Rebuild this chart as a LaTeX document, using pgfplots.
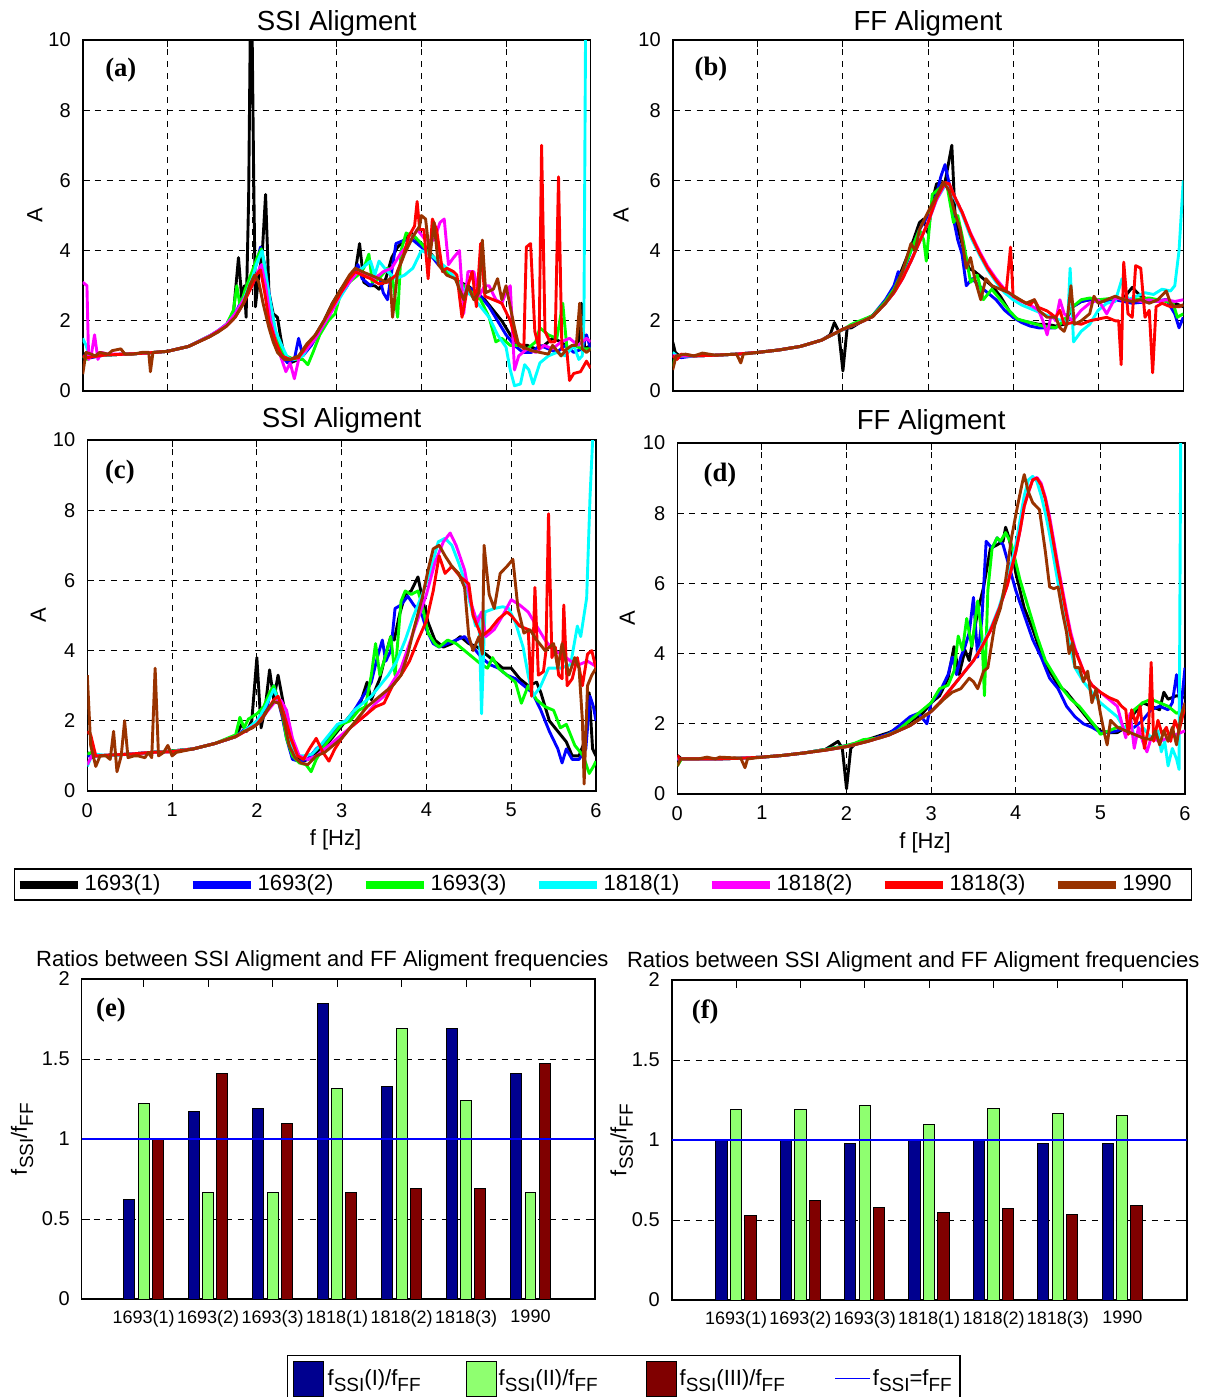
\documentclass[border=0pt]{standalone}
\usepackage{fontspec}
\setmainfont{Liberation Sans}
\newfontfamily\serifbold{Liberation Serif}
\usepackage{pgfplots}
\pgfplotsset{compat=1.18}

\definecolor{c1}{rgb}{0,0,0}
\definecolor{c2}{rgb}{0,0,1}
\definecolor{c3}{rgb}{0,1,0}
\definecolor{c4}{rgb}{0,1,1}
\definecolor{c5}{rgb}{1,0,1}
\definecolor{c6}{rgb}{1,0,0}
\definecolor{c7}{rgb}{0.6,0.2,0}
\definecolor{barI}{rgb}{0,0,0.5625}
\definecolor{barII}{rgb}{0.5625,1,0.4375}
\definecolor{barIII}{rgb}{0.5,0,0}

\newcommand{\tfont}{\fontsize{13.8}{15}\selectfont}
\newcommand{\sub}[1]{\raisebox{-0.55ex}{\fontsize{9.5}{10}\selectfont #1}}
\newcommand{\plabel}[3]{\node[font=\serifbold\bfseries\fontsize{13.3}{14}\selectfont] at (rel axis cs:#1,#2) {#3};}

\pgfplotsset{
  every axis/.append style={/pgf/number format/assume math mode=true},
  spec/.style={
    scale only axis,
    xmin=0, xmax=6, ymin=0, ymax=10,
    xtick={0,1,...,6}, ytick={0,2,...,10},
    grid=major,
    grid style={black, line width=0.45pt, dash pattern=on 3pt off 3pt},
    tick align=inside, major tick length=3.5pt,
    tick style={black, line width=0.5pt},
    axis line style={black, line width=0.8pt},
    tick label style={font=\fontsize{10}{10}\selectfont},
    yticklabel style={xshift=-2.5pt},
    xticklabel style={yshift=-2.5pt},
    label style={font=\fontsize{11}{12}\selectfont},
    ylabel={A},
    xlabel style={at={(axis description cs:0.488,-0.14)}, anchor=center},
    title style={font=\tfont, at={(axis description cs:0.5,1)}, anchor=base},
  },
  ratio/.style={
    scale only axis,
    xmax=8, ymin=0, ymax=2,
    xtick={1,...,7},
    xticklabels={1693(1),1693(2),1693(3),1818(1),1818(2),1818(3),1990},
    ytick={0,0.5,1,1.5,2},
    ymajorgrids,
    grid style={black, line width=0.45pt, dash pattern=on 3pt off 3pt},
    tick align=inside, major tick length=4pt,
    tick style={black, line width=0.5pt},
    axis line style={black, line width=0.8pt},
    xticklabel style={font=\fontsize{9}{9}\selectfont, yshift=-2pt},
    yticklabel style={font=\fontsize{10}{10}\selectfont, xshift=-2.5pt},
    title={Ratios between SSI Aligment and FF Aligment frequencies},
    title style={font=\fontsize{11}{12}\selectfont, at={(axis description cs:0.5,1)}, anchor=base, yshift=0.25pt, xshift=-8pt},
    ylabel={f\sub{SSI}/f\sub{FF}},
    label style={font=\fontsize{11}{12}\selectfont},
  },
  s1/.style={c1, line width=1.45pt, line join=round},
  s2/.style={c2, line width=1.45pt, line join=round},
  s3/.style={c3, line width=1.45pt, line join=round},
  s4/.style={c4, line width=1.45pt, line join=round},
  s5/.style={c5, line width=1.45pt, line join=round},
  s6/.style={c6, line width=1.45pt, line join=round},
  s7/.style={c7, line width=1.45pt, line join=round},
  bI/.style={ybar, fill=barI, draw=black, line width=0.5pt},
  bII/.style={ybar, fill=barII, draw=black, line width=0.5pt},
  bIII/.style={ybar, fill=barIII, draw=black, line width=0.5pt},
  unity/.style={blue, line width=1pt},
}

\begin{document}
\begin{tikzpicture}
\useasboundingbox (0,0) rectangle (605pt,-698.5pt);

% ---------------- (a) SSI alignment, upper ----------------
\begin{axis}[spec, at={(41.35pt,-20pt)}, anchor=north west, width=254pt, height=175.5pt,
  xticklabels={}, title={SSI Aligment}, title style={yshift=-1.5pt},
  ylabel style={at={(axis description cs:-0.0945,0.5)}, anchor=center}]
\addplot[s1] coordinates {(0,1.1)(0.05,0.95)(0.1,1.0)(0.25,1.02)(0.5,1.05)(0.75,1.08)(1.0,1.13)(1.25,1.27)(1.5,1.55)(1.6,1.7)(1.7,1.9)(1.78,2.2)(1.84,3.8)(1.88,2.6)(1.91,3.0)(1.93,2.1)(1.96,5.5)(1.98,10.5)(2.0,10.5)(2.02,6)(2.04,2.4)(2.08,3.3)(2.12,3.9)(2.16,5.6)(2.2,2.8)(2.25,2.2)(2.3,2.1)(2.34,1.5)(2.38,1.0)(2.45,0.8)(2.55,0.9)(2.65,1.2)(2.75,1.6)(2.85,2.0)(2.95,2.5)(3.05,2.9)(3.15,3.2)(3.22,3.4)(3.27,4.2)(3.32,3.1)(3.38,3.0)(3.45,3.0)(3.5,2.9)(3.58,3.2)(3.65,3.8)(3.72,4.1)(3.8,4.3)(3.88,4.5)(3.95,4.3)(4.05,4.1)(4.15,3.8)(4.25,3.5)(4.35,3.3)(4.45,3.1)(4.55,3.0)(4.65,2.8)(4.75,2.6)(4.85,2.3)(4.95,2.0)(5.05,1.6)(5.15,1.3)(5.25,1.3)(5.35,1.2)(5.45,1.3)(5.55,1.5)(5.65,1.4)(5.75,1.2)(5.85,1.3)(5.89,2.5)(5.93,1.2)(6.0,1.3)};
\addplot[s2] coordinates {(0,1.0)(0.1,0.95)(0.25,1.02)(0.5,1.05)(0.75,1.08)(1.0,1.13)(1.25,1.27)(1.5,1.57)(1.6,1.72)(1.7,1.9)(1.8,2.2)(1.9,2.7)(1.98,3.2)(2.05,3.6)(2.1,4.1)(2.15,3.6)(2.2,2.8)(2.25,2.0)(2.3,1.4)(2.35,1.0)(2.42,0.8)(2.5,0.9)(2.55,1.5)(2.6,1.0)(2.7,1.3)(2.8,1.7)(2.9,2.1)(3.0,2.6)(3.1,2.9)(3.2,3.3)(3.25,3.6)(3.3,3.2)(3.4,3.0)(3.5,3.3)(3.55,2.8)(3.6,2.6)(3.65,3.4)(3.7,4.2)(3.8,4.3)(3.9,4.3)(4.0,4.1)(4.1,3.9)(4.2,3.6)(4.3,3.4)(4.4,3.2)(4.5,3.0)(4.6,2.9)(4.7,2.7)(4.8,2.4)(4.9,2.0)(5.0,1.6)(5.1,1.3)(5.2,1.1)(5.3,1.1)(5.4,1.3)(5.5,1.2)(5.6,1.1)(5.7,1.3)(5.8,1.1)(5.9,1.2)(5.95,1.6)(6.0,1.2)};
\addplot[s3] coordinates {(0,1.0)(0.05,0.9)(0.1,1.0)(0.25,1.02)(0.5,1.05)(0.75,1.08)(1.0,1.13)(1.25,1.27)(1.5,1.57)(1.6,1.7)(1.7,1.9)(1.78,2.3)(1.82,3.0)(1.86,2.4)(1.92,2.9)(2.0,3.4)(2.06,3.8)(2.11,4.05)(2.16,3.4)(2.2,2.5)(2.26,1.8)(2.32,1.3)(2.4,1.0)(2.5,0.9)(2.6,0.9)(2.66,0.75)(2.72,1.1)(2.8,1.6)(2.9,2.0)(2.98,2.2)(3.05,2.8)(3.15,3.1)(3.25,3.3)(3.32,3.5)(3.38,3.9)(3.42,3.1)(3.5,3.2)(3.6,3.5)(3.66,3.2)(3.72,2.1)(3.76,4.0)(3.82,4.5)(3.92,4.4)(4.0,4.2)(4.1,3.9)(4.2,3.7)(4.3,3.4)(4.4,3.2)(4.5,3.0)(4.6,2.8)(4.7,2.6)(4.8,2.1)(4.88,1.4)(4.95,1.5)(5.05,1.3)(5.15,1.3)(5.25,1.2)(5.35,1.4)(5.4,1.8)(5.5,1.6)(5.6,1.5)(5.67,2.5)(5.72,1.2)(5.8,1.3)(5.9,1.2)(6.0,1.2)};
\addplot[s4] coordinates {(0,1.5)(0.04,1.3)(0.08,1.0)(0.15,1.0)(0.25,1.02)(0.5,1.05)(0.75,1.08)(1.0,1.13)(1.25,1.27)(1.5,1.57)(1.6,1.72)(1.7,1.9)(1.8,2.2)(1.9,2.6)(2.0,3.2)(2.05,3.6)(2.12,4.0)(2.17,3.2)(2.22,2.5)(2.28,1.7)(2.35,1.3)(2.42,0.95)(2.5,0.9)(2.6,1.0)(2.7,1.4)(2.8,1.8)(2.9,2.2)(3.0,2.5)(3.1,2.9)(3.2,3.3)(3.3,3.5)(3.4,3.7)(3.45,3.3)(3.5,3.7)(3.6,3.4)(3.7,3.2)(3.8,3.3)(3.9,3.5)(4.0,4.0)(4.1,3.9)(4.2,3.7)(4.3,3.5)(4.4,3.2)(4.5,2.9)(4.6,2.7)(4.7,2.4)(4.8,2.1)(4.9,1.6)(5.0,1.25)(5.05,0.6)(5.1,0.15)(5.17,0.2)(5.22,0.75)(5.27,0.6)(5.32,0.2)(5.4,0.8)(5.5,1.0)(5.6,1.1)(5.7,1.0)(5.8,1.3)(5.86,0.9)(5.9,1.0)(5.92,2.0)(5.94,10.5)};
\addplot[s5] coordinates {(0,3.1)(0.05,3.0)(0.07,0.9)(0.1,1.0)(0.14,1.6)(0.18,0.9)(0.22,1.1)(0.3,1.05)(0.5,1.05)(0.75,1.08)(1.0,1.13)(1.25,1.27)(1.5,1.57)(1.6,1.72)(1.7,1.9)(1.8,2.2)(1.9,2.6)(2.0,3.0)(2.05,3.3)(2.11,3.6)(2.16,3.0)(2.22,2.0)(2.28,1.4)(2.35,0.9)(2.4,0.55)(2.45,0.8)(2.5,0.35)(2.56,1.0)(2.65,1.2)(2.75,1.5)(2.85,1.9)(2.95,2.3)(3.05,2.8)(3.15,3.1)(3.25,3.4)(3.35,3.3)(3.45,3.2)(3.55,3.4)(3.65,3.5)(3.75,3.9)(3.85,4.2)(3.95,4.6)(4.05,4.3)(4.15,4.3)(4.22,4.8)(4.27,4.9)(4.32,3.6)(4.38,3.8)(4.45,4.0)(4.5,2.2)(4.55,3.4)(4.62,3.4)(4.68,2.7)(4.75,3.0)(4.8,3.0)(4.88,2.6)(4.95,2.5)(5.0,2.8)(5.05,3.0)(5.1,0.6)(5.15,1.0)(5.25,1.2)(5.35,1.1)(5.45,1.3)(5.55,1.2)(5.65,1.4)(5.75,1.5)(5.85,1.3)(5.95,1.5)(6.0,1.4)};
\addplot[s6] coordinates {(0,1.0)(0.05,0.95)(0.25,1.02)(0.5,1.05)(0.75,1.08)(1.0,1.13)(1.25,1.27)(1.5,1.55)(1.6,1.7)(1.7,1.85)(1.8,2.1)(1.9,2.5)(2.0,3.0)(2.05,3.3)(2.1,3.45)(2.15,2.8)(2.2,2.0)(2.28,1.4)(2.35,1.0)(2.45,0.9)(2.55,0.95)(2.65,1.3)(2.75,1.6)(2.85,2.0)(2.95,2.4)(3.05,2.8)(3.15,3.2)(3.22,3.4)(3.3,3.3)(3.4,3.2)(3.5,3.05)(3.6,3.1)(3.7,3.3)(3.78,3.8)(3.85,4.4)(3.92,4.7)(3.95,5.4)(3.98,4.6)(4.03,4.6)(4.08,3.2)(4.13,4.9)(4.18,4.6)(4.25,3.4)(4.3,3.5)(4.38,3.4)(4.42,3.3)(4.48,2.1)(4.55,3.0)(4.6,3.4)(4.65,2.4)(4.7,4.2)(4.75,2.7)(4.85,2.6)(4.95,2.5)(5.05,2.0)(5.12,1.4)(5.18,1.3)(5.21,1.2)(5.24,4.1)(5.29,4.2)(5.34,1.7)(5.39,1.2)(5.42,7.0)(5.46,1.7)(5.52,1.4)(5.58,1.4)(5.62,6.1)(5.66,1.2)(5.72,1.1)(5.75,0.3)(5.8,0.5)(5.88,0.55)(5.95,0.85)(6.0,0.65)};
\addplot[s7] coordinates {(0,0.48)(0.04,1.1)(0.1,1.05)(0.15,1.0)(0.2,1.1)(0.3,1.05)(0.35,1.15)(0.45,1.2)(0.5,1.05)(0.6,1.05)(0.7,1.1)(0.78,1.1)(0.8,0.55)(0.83,1.1)(1.0,1.13)(1.25,1.27)(1.5,1.55)(1.6,1.68)(1.7,1.85)(1.8,2.1)(1.9,2.5)(1.97,3.0)(2.03,3.3)(2.08,3.1)(2.13,2.5)(2.2,1.8)(2.25,1.4)(2.3,1.1)(2.38,0.9)(2.45,0.9)(2.55,1.0)(2.65,1.35)(2.75,1.6)(2.85,2.0)(2.95,2.5)(3.05,2.9)(3.15,3.3)(3.22,3.5)(3.3,3.4)(3.4,3.3)(3.5,3.2)(3.58,3.1)(3.63,3.2)(3.66,2.1)(3.72,3.4)(3.8,3.9)(3.9,4.4)(3.98,4.7)(4.0,5.0)(4.05,4.9)(4.1,3.8)(4.15,4.8)(4.2,3.6)(4.3,3.3)(4.4,3.2)(4.5,2.6)(4.55,3.0)(4.62,2.6)(4.68,2.8)(4.72,4.3)(4.76,2.8)(4.85,2.9)(4.9,3.2)(4.95,2.6)(5.0,3.0)(5.05,2.4)(5.1,1.8)(5.15,1.3)(5.2,1.25)(5.3,1.15)(5.4,1.1)(5.5,1.05)(5.55,1.3)(5.65,1.0)(5.72,1.2)(5.78,1.3)(5.83,1.3)(5.87,2.5)(5.9,1.2)(5.95,1.1)(6.0,1.2)};
\plabel{0.075}{0.915}{(a)}
\end{axis}

% ---------------- (b) FF alignment, upper ----------------
\begin{axis}[spec, at={(336.35pt,-20pt)}, anchor=north west, width=255.3pt, height=175.5pt,
  xticklabels={}, title={FF Aligment}, title style={yshift=-1.5pt},
  ylabel style={at={(axis description cs:-0.101,0.5)}, anchor=center}]
\addplot[s1] coordinates {(0,1.4)(0.03,1.1)(0.08,1.0)(0.25,1.0)(0.5,1.02)(0.75,1.05)(1.0,1.1)(1.25,1.17)(1.5,1.27)(1.75,1.45)(1.85,1.6)(1.9,1.95)(1.95,1.7)(2.0,0.57)(2.05,1.8)(2.1,1.8)(2.2,1.95)(2.35,2.15)(2.5,2.55)(2.6,2.9)(2.7,3.5)(2.8,4.1)(2.9,4.8)(2.95,4.9)(3.0,4.5)(3.05,5.4)(3.1,5.9)(3.2,5.95)(3.28,7.0)(3.32,4.9)(3.4,4.2)(3.48,3.5)(3.55,3.4)(3.65,3.2)(3.75,3.0)(3.85,2.7)(3.95,2.3)(4.0,2.1)(4.1,2.0)(4.2,1.95)(4.3,1.9)(4.4,1.9)(4.5,1.85)(4.6,1.9)(4.7,2.4)(4.8,2.55)(4.9,2.6)(5.0,2.6)(5.1,2.55)(5.2,2.6)(5.3,2.65)(5.4,2.95)(5.5,2.7)(5.6,2.6)(5.7,2.55)(5.8,2.6)(5.9,2.5)(6.0,2.4)};
\addplot[s2] coordinates {(0,1.0)(0.1,0.95)(0.25,1.0)(0.5,1.02)(0.75,1.05)(1.0,1.1)(1.25,1.17)(1.5,1.27)(1.75,1.45)(2.0,1.75)(2.2,1.95)(2.35,2.15)(2.5,2.6)(2.6,3.0)(2.65,3.4)(2.7,3.3)(2.8,4.0)(2.9,4.6)(3.0,5.0)(3.05,5.3)(3.1,5.6)(3.15,6.1)(3.2,6.45)(3.25,5.9)(3.3,4.9)(3.35,4.3)(3.4,3.9)(3.45,3.0)(3.52,3.2)(3.6,3.0)(3.7,2.8)(3.8,2.6)(3.9,2.3)(4.0,2.1)(4.1,1.95)(4.2,1.85)(4.3,1.8)(4.4,1.8)(4.5,1.8)(4.6,2.0)(4.7,2.4)(4.8,2.55)(4.9,2.6)(5.0,2.55)(5.2,2.6)(5.4,2.5)(5.6,2.55)(5.8,2.6)(5.9,2.2)(5.95,1.8)(6.0,2.1)};
\addplot[s3] coordinates {(0,0.7)(0.04,1.0)(0.25,1.0)(0.5,1.02)(0.75,1.05)(1.0,1.1)(1.25,1.17)(1.5,1.27)(1.75,1.45)(2.0,1.75)(2.1,1.9)(2.2,2.0)(2.35,2.15)(2.5,2.55)(2.6,2.9)(2.7,3.4)(2.8,4.0)(2.9,4.6)(2.95,4.3)(2.98,3.7)(3.05,5.6)(3.15,5.8)(3.22,5.9)(3.3,4.8)(3.35,5.0)(3.42,4.2)(3.5,3.1)(3.58,3.3)(3.65,2.6)(3.75,2.9)(3.85,2.6)(3.95,2.3)(4.05,2.05)(4.2,1.95)(4.35,1.85)(4.5,1.8)(4.6,2.0)(4.7,2.4)(4.8,2.6)(4.9,2.65)(5.0,2.6)(5.2,2.65)(5.4,2.6)(5.6,2.65)(5.8,2.55)(5.88,2.5)(5.93,2.1)(6.0,2.2)};
\addplot[s4] coordinates {(0,1.1)(0.05,1.0)(0.25,1.0)(0.5,1.02)(0.75,1.05)(1.0,1.1)(1.25,1.17)(1.5,1.27)(1.75,1.45)(2.0,1.76)(2.2,1.95)(2.35,2.12)(2.5,2.5)(2.6,2.8)(2.7,3.2)(2.8,3.7)(2.9,4.25)(3.0,4.8)(3.1,5.45)(3.2,5.85)(3.25,5.85)(3.3,5.55)(3.4,5.05)(3.5,4.4)(3.6,3.9)(3.7,3.45)(3.8,3.1)(3.9,2.8)(4.0,2.6)(4.1,2.45)(4.2,2.35)(4.3,2.25)(4.4,2.15)(4.5,2.05)(4.6,2.0)(4.64,1.9)(4.67,3.5)(4.71,1.4)(4.8,1.7)(4.9,1.9)(5.0,2.3)(5.1,2.5)(5.2,2.55)(5.28,3.2)(5.35,2.6)(5.45,2.7)(5.55,2.8)(5.65,2.75)(5.75,2.9)(5.85,2.85)(5.9,3.0)(5.95,4.0)(6.0,6.0)};
\addplot[s5] coordinates {(0,1.0)(0.25,1.0)(0.5,1.02)(0.75,1.05)(1.0,1.1)(1.25,1.17)(1.5,1.27)(1.75,1.45)(2.0,1.76)(2.2,1.95)(2.35,2.12)(2.5,2.5)(2.6,2.8)(2.7,3.2)(2.8,3.7)(2.9,4.25)(3.0,4.8)(3.1,5.45)(3.2,5.9)(3.25,5.9)(3.3,5.6)(3.4,5.1)(3.5,4.5)(3.6,4.0)(3.7,3.55)(3.8,3.2)(3.9,2.9)(4.0,2.7)(4.1,2.55)(4.2,2.45)(4.3,2.3)(4.35,2.0)(4.4,1.6)(4.45,2.2)(4.5,2.0)(4.55,2.6)(4.6,2.2)(4.7,2.0)(4.8,2.3)(4.9,2.5)(5.0,2.6)(5.1,2.2)(5.2,2.65)(5.3,2.6)(5.4,2.6)(5.5,2.55)(5.6,2.6)(5.7,2.55)(5.8,2.6)(5.9,2.55)(6.0,2.6)};
\addplot[s6] coordinates {(0,1.0)(0.05,0.9)(0.1,1.05)(0.25,1.0)(0.5,1.02)(0.75,1.05)(1.0,1.1)(1.25,1.17)(1.5,1.27)(1.75,1.45)(2.0,1.76)(2.2,1.95)(2.35,2.12)(2.5,2.5)(2.6,2.8)(2.7,3.2)(2.8,3.7)(2.9,4.25)(3.0,4.8)(3.1,5.5)(3.2,5.94)(3.25,5.9)(3.3,5.6)(3.4,5.1)(3.5,4.47)(3.6,3.95)(3.7,3.5)(3.8,3.15)(3.85,3.0)(3.92,2.85)(3.97,4.1)(4.0,2.7)(4.1,2.57)(4.2,2.45)(4.25,2.6)(4.3,2.38)(4.4,2.28)(4.5,2.1)(4.55,2.3)(4.6,1.9)(4.7,1.95)(4.8,1.9)(4.9,2.0)(5.0,2.05)(5.1,2.1)(5.2,2.0)(5.24,2.0)(5.27,0.75)(5.3,3.67)(5.35,2.2)(5.4,2.1)(5.44,3.57)(5.5,3.5)(5.55,2.1)(5.6,2.3)(5.64,0.52)(5.68,2.4)(5.75,2.5)(5.85,2.4)(5.95,2.4)(6.0,2.45)};
\addplot[s7] coordinates {(0,0.6)(0.04,1.0)(0.15,1.05)(0.25,1.0)(0.35,1.08)(0.5,1.02)(0.75,1.05)(0.8,0.8)(0.83,1.05)(1.0,1.1)(1.25,1.17)(1.5,1.27)(1.75,1.45)(2.0,1.76)(2.2,1.95)(2.35,2.12)(2.5,2.5)(2.6,2.85)(2.7,3.4)(2.8,4.2)(2.85,4.0)(2.9,4.6)(3.0,5.1)(3.1,5.55)(3.18,5.95)(3.25,5.7)(3.3,5.2)(3.38,4.6)(3.45,3.5)(3.5,3.8)(3.55,3.2)(3.62,2.6)(3.68,3.2)(3.75,3.0)(3.85,2.9)(3.95,2.8)(4.05,2.65)(4.15,2.5)(4.25,2.6)(4.3,2.3)(4.4,2.1)(4.5,2.1)(4.55,1.8)(4.6,1.7)(4.63,1.9)(4.68,3.0)(4.72,1.9)(4.8,2.0)(4.9,2.2)(4.95,2.7)(5.0,2.5)(5.1,2.6)(5.2,2.7)(5.3,2.6)(5.4,2.55)(5.5,2.6)(5.6,2.5)(5.7,2.6)(5.8,2.85)(5.85,2.5)(5.9,2.4)(6.0,2.45)};
\plabel{0.075}{0.917}{(b)}
\end{axis}

% ---------------- (c) SSI alignment, lower ----------------
\begin{axis}[spec, at={(43.65pt,-220pt)}, anchor=north west, width=254.35pt, height=175.5pt,
  title={SSI Aligment}, title style={yshift=0.5pt}, xlabel={f [Hz]},
  ylabel style={at={(axis description cs:-0.0965,0.5)}, anchor=center}]
\addplot[s1] coordinates {(0,1.1)(0.05,0.95)(0.1,1.0)(0.25,1.02)(0.5,1.05)(0.75,1.1)(1.0,1.14)(1.25,1.2)(1.5,1.35)(1.75,1.55)(1.82,1.9)(1.88,1.7)(1.94,2.0)(2.0,3.8)(2.05,1.8)(2.1,2.4)(2.15,3.45)(2.2,2.6)(2.25,3.3)(2.32,2.4)(2.38,1.5)(2.45,0.95)(2.55,0.85)(2.65,0.95)(2.75,1.2)(2.85,1.4)(2.95,1.7)(3.05,2.0)(3.15,2.3)(3.22,2.5)(3.3,3.1)(3.35,2.6)(3.45,3.2)(3.52,3.9)(3.58,4.4)(3.62,4.3)(3.68,5.0)(3.75,5.6)(3.82,5.7)(3.9,6.1)(3.95,5.5)(4.02,4.8)(4.1,4.3)(4.2,4.1)(4.3,4.2)(4.4,4.4)(4.5,4.2)(4.6,4.1)(4.7,3.9)(4.8,3.7)(4.9,3.5)(5.0,3.5)(5.1,3.2)(5.2,3.0)(5.3,3.1)(5.35,2.8)(5.45,2.0)(5.55,1.7)(5.65,1.4)(5.72,1.0)(5.8,1.0)(5.88,1.5)(5.92,2.8)(5.96,1.2)(6.0,1.0)};
\addplot[s2] coordinates {(0,1.0)(0.25,1.02)(0.5,1.05)(0.75,1.1)(1.0,1.14)(1.25,1.2)(1.5,1.35)(1.75,1.55)(1.85,1.75)(1.95,1.85)(2.05,2.0)(2.1,2.2)(2.15,2.7)(2.2,3.0)(2.25,2.6)(2.3,2.1)(2.35,1.5)(2.42,0.9)(2.5,0.85)(2.6,0.9)(2.7,1.2)(2.8,1.4)(2.9,1.7)(3.0,1.9)(3.1,2.1)(3.2,2.5)(3.28,2.8)(3.35,3.1)(3.42,3.8)(3.48,4.3)(3.52,3.7)(3.58,4.0)(3.63,5.2)(3.7,5.3)(3.78,5.55)(3.85,5.3)(3.95,5.0)(4.0,4.6)(4.08,4.2)(4.15,4.1)(4.25,4.2)(4.35,4.3)(4.45,4.4)(4.55,4.1)(4.65,3.8)(4.75,3.6)(4.85,3.5)(4.95,3.3)(5.05,3.2)(5.15,3.0)(5.25,2.8)(5.35,2.3)(5.45,1.7)(5.55,1.2)(5.6,0.8)(5.65,1.2)(5.72,0.9)(5.8,0.9)(5.88,1.2)(5.93,2.7)(5.97,2.4)(6.0,2.0)};
\addplot[s3] coordinates {(0,1.05)(0.05,1.1)(0.1,1.0)(0.25,1.02)(0.5,1.05)(0.75,1.1)(1.0,1.14)(1.25,1.2)(1.5,1.35)(1.75,1.6)(1.8,2.1)(1.85,1.8)(1.9,2.05)(2.0,2.2)(2.08,2.4)(2.15,2.8)(2.2,3.0)(2.25,2.6)(2.3,2.2)(2.35,1.5)(2.42,1.0)(2.5,0.8)(2.58,0.75)(2.64,0.55)(2.7,0.9)(2.8,1.3)(2.9,1.6)(3.0,1.9)(3.1,2.0)(3.2,2.3)(3.28,2.4)(3.35,3.3)(3.4,4.2)(3.45,3.3)(3.5,3.7)(3.58,4.4)(3.63,3.3)(3.7,5.4)(3.75,5.7)(3.82,5.6)(3.9,5.7)(3.95,5.3)(4.02,4.5)(4.1,4.2)(4.15,4.1)(4.25,4.3)(4.35,4.2)(4.45,4.0)(4.55,3.8)(4.65,3.6)(4.72,3.5)(4.78,3.8)(4.85,3.5)(4.95,3.3)(5.05,3.1)(5.12,2.5)(5.2,3.0)(5.3,2.6)(5.4,2.4)(5.5,2.3)(5.58,1.8)(5.65,1.9)(5.75,1.3)(5.85,1.0)(5.92,0.5)(5.97,0.7)(6.0,0.85)};
\addplot[s4] coordinates {(0,0.7)(0.05,1.0)(0.1,1.05)(0.25,1.0)(0.5,1.05)(0.75,1.1)(1.0,1.12)(1.25,1.2)(1.5,1.35)(1.75,1.55)(1.9,1.8)(2.0,2.0)(2.1,2.4)(2.2,2.9)(2.25,2.6)(2.32,2.3)(2.38,1.6)(2.45,1.0)(2.55,1.0)(2.65,1.05)(2.75,1.3)(2.85,1.6)(2.95,1.9)(3.05,2.0)(3.15,2.3)(3.25,2.5)(3.35,2.7)(3.45,3.0)(3.55,3.3)(3.65,3.7)(3.75,4.3)(3.85,5.0)(3.95,5.6)(4.05,6.3)(4.14,7.1)(4.22,7.2)(4.3,7.0)(4.38,6.5)(4.45,6.0)(4.52,5.3)(4.58,4.7)(4.62,5.0)(4.65,2.2)(4.69,5.1)(4.8,5.2)(4.9,5.25)(4.97,5.2)(5.05,4.8)(5.14,4.1)(5.2,3.3)(5.26,2.7)(5.34,2.95)(5.44,3.5)(5.58,3.5)(5.7,3.6)(5.78,4.7)(5.82,4.4)(5.89,5.5)(5.93,8.4)(5.97,10.5)};
\addplot[s5] coordinates {(0,0.75)(0.05,1.0)(0.1,1.0)(0.25,1.02)(0.5,1.05)(0.75,1.1)(1.0,1.12)(1.25,1.2)(1.5,1.35)(1.75,1.55)(1.9,1.75)(2.0,1.9)(2.1,2.2)(2.2,2.5)(2.28,2.6)(2.35,2.3)(2.42,1.5)(2.5,1.0)(2.6,0.9)(2.7,1.0)(2.8,1.2)(2.9,1.4)(3.0,1.6)(3.1,1.8)(3.2,2.0)(3.3,2.2)(3.4,2.5)(3.5,2.7)(3.6,3.1)(3.7,3.5)(3.8,4.2)(3.9,4.9)(4.0,5.6)(4.1,6.5)(4.2,7.1)(4.28,7.35)(4.35,7.0)(4.45,6.3)(4.52,5.4)(4.6,4.8)(4.65,5.1)(4.7,4.4)(4.8,4.6)(4.9,5.0)(5.0,5.45)(5.1,5.3)(5.2,5.1)(5.3,4.7)(5.4,4.3)(5.5,4.0)(5.6,3.9)(5.7,3.7)(5.8,3.6)(5.9,3.7)(6.0,3.55)};
\addplot[s6] coordinates {(0,1.7)(0.04,1.6)(0.1,1.0)(0.25,1.02)(0.5,1.05)(0.75,1.1)(1.0,1.12)(1.25,1.2)(1.5,1.35)(1.75,1.55)(1.9,1.75)(2.0,1.9)(2.1,2.2)(2.2,2.6)(2.25,2.7)(2.32,2.2)(2.4,1.5)(2.48,1.0)(2.55,0.9)(2.62,1.2)(2.7,1.5)(2.78,1.1)(2.85,0.85)(2.92,1.2)(3.0,1.5)(3.1,1.8)(3.2,2.0)(3.3,2.2)(3.4,2.4)(3.5,2.5)(3.6,3.0)(3.7,3.3)(3.8,3.7)(3.9,4.3)(4.0,4.85)(4.08,5.7)(4.15,6.7)(4.22,6.2)(4.3,6.4)(4.4,6.1)(4.5,5.9)(4.55,5.0)(4.6,4.7)(4.65,4.4)(4.75,4.6)(4.85,4.9)(4.95,5.1)(5.0,5.0)(5.1,4.7)(5.2,4.6)(5.24,2.7)(5.28,5.8)(5.32,3.3)(5.38,3.4)(5.41,4.0)(5.44,7.9)(5.48,3.8)(5.52,4.1)(5.56,3.3)(5.6,3.2)(5.62,5.3)(5.66,3.0)(5.72,3.2)(5.78,3.8)(5.84,3.0)(5.9,3.9)(5.95,4.0)(6.0,3.5)};
\addplot[s7] coordinates {(0,3.3)(0.04,1.3)(0.1,0.7)(0.15,1.0)(0.22,1.0)(0.27,0.9)(0.31,1.7)(0.35,0.55)(0.4,1.0)(0.44,2.0)(0.48,0.95)(0.55,1.0)(0.6,1.0)(0.68,0.95)(0.72,1.1)(0.76,0.95)(0.8,3.5)(0.84,1.0)(0.9,1.1)(0.95,1.3)(1.0,1.0)(1.05,1.1)(1.25,1.2)(1.5,1.35)(1.75,1.55)(1.85,1.7)(1.95,1.8)(2.05,2.0)(2.12,2.3)(2.2,2.55)(2.26,2.5)(2.32,2.0)(2.38,1.3)(2.45,0.95)(2.52,0.8)(2.6,0.75)(2.7,1.0)(2.8,1.1)(2.9,1.3)(3.0,1.5)(3.1,1.8)(3.2,2.1)(3.3,2.4)(3.4,2.6)(3.5,2.8)(3.6,3.0)(3.7,3.3)(3.78,3.9)(3.85,4.6)(3.95,5.5)(4.02,6.3)(4.08,6.9)(4.15,7.0)(4.22,6.7)(4.3,6.4)(4.38,6.2)(4.45,5.8)(4.5,4.4)(4.55,4.0)(4.62,4.4)(4.66,3.9)(4.68,7.0)(4.74,5.6)(4.8,5.2)(4.87,6.2)(4.95,6.4)(5.02,6.6)(5.08,5.2)(5.15,4.5)(5.22,4.6)(5.3,4.3)(5.4,4.0)(5.5,4.2)(5.55,3.5)(5.6,4.2)(5.68,3.3)(5.75,3.8)(5.8,3.5)(5.84,2.0)(5.86,0.2)(5.9,3.0)(5.95,3.3)(6.0,3.5)};
\plabel{0.064}{0.909}{(c)}
\end{axis}

% ---------------- (d) FF alignment, lower ----------------
\begin{axis}[spec, at={(338.65pt,-221.5pt)}, anchor=north west, width=253.85pt, height=175.5pt,
  title={FF Aligment}, title style={yshift=1pt}, xlabel={f [Hz]},
  ylabel style={at={(axis description cs:-0.0985,0.5)}, anchor=center}]
\addplot[s1] coordinates {(0,1.1)(0.05,1.0)(0.25,1.0)(0.5,1.0)(0.75,1.02)(1.0,1.05)(1.25,1.1)(1.5,1.17)(1.75,1.27)(1.9,1.5)(1.95,1.3)(2.0,0.15)(2.05,1.3)(2.1,1.42)(2.25,1.55)(2.5,1.75)(2.75,2.0)(2.9,2.3)(3.0,2.6)(3.1,2.8)(3.2,3.3)(3.27,4.2)(3.33,3.4)(3.4,4.1)(3.45,3.8)(3.55,5.2)(3.62,5.9)(3.7,7.0)(3.78,7.1)(3.85,7.2)(3.88,7.6)(3.92,7.3)(4.0,6.3)(4.1,5.3)(4.2,4.7)(4.3,4.0)(4.4,3.5)(4.5,3.1)(4.6,2.9)(4.7,2.6)(4.8,2.3)(4.9,2.0)(5.0,1.8)(5.1,1.75)(5.2,1.75)(5.3,1.9)(5.4,2.3)(5.5,2.6)(5.6,2.5)(5.7,2.4)(5.75,2.9)(5.8,2.7)(5.9,2.8)(6.0,2.75)};
\addplot[s2] coordinates {(0,1.0)(0.25,1.0)(0.5,1.0)(0.75,1.02)(1.0,1.05)(1.25,1.1)(1.5,1.17)(1.75,1.27)(2.0,1.38)(2.25,1.52)(2.5,1.72)(2.65,2.0)(2.75,2.2)(2.85,2.3)(2.95,2.0)(3.0,2.6)(3.1,2.9)(3.2,3.4)(3.25,3.9)(3.3,3.4)(3.35,3.9)(3.4,4.2)(3.45,4.6)(3.5,5.6)(3.55,3.9)(3.6,5.0)(3.65,7.2)(3.72,7.0)(3.78,7.3)(3.85,7.1)(3.92,6.5)(4.0,5.8)(4.1,5.1)(4.2,4.4)(4.3,3.9)(4.4,3.3)(4.5,3.0)(4.6,2.5)(4.7,2.2)(4.8,2.0)(4.9,1.9)(5.0,1.76)(5.1,1.75)(5.2,1.8)(5.3,1.9)(5.4,1.9)(5.5,2.1)(5.6,2.4)(5.7,2.5)(5.8,2.4)(5.85,2.6)(5.9,3.4)(5.95,2.4)(6.0,3.6)};
\addplot[s3] coordinates {(0,0.8)(0.05,1.0)(0.25,1.0)(0.5,1.0)(0.75,1.02)(1.0,1.05)(1.25,1.1)(1.5,1.17)(1.75,1.27)(2.0,1.38)(2.1,1.45)(2.2,1.55)(2.4,1.6)(2.6,1.8)(2.75,2.1)(2.9,2.4)(3.0,2.6)(3.1,3.0)(3.2,3.1)(3.27,3.5)(3.32,4.5)(3.37,4.1)(3.42,5.0)(3.48,4.2)(3.55,5.5)(3.6,4.5)(3.63,2.8)(3.67,5.8)(3.72,7.0)(3.78,7.3)(3.82,7.2)(3.88,7.45)(3.95,7.1)(4.05,6.1)(4.15,5.3)(4.25,4.5)(4.35,3.8)(4.45,3.4)(4.55,3.0)(4.65,2.7)(4.75,2.5)(4.85,2.2)(4.95,1.9)(5.0,1.7)(5.1,1.8)(5.2,1.9)(5.3,1.9)(5.4,2.4)(5.5,2.6)(5.6,2.7)(5.7,2.6)(5.8,2.5)(5.9,2.3)(6.0,2.4)};
\addplot[s4] coordinates {(0,1.0)(0.25,1.0)(0.5,1.0)(0.75,1.02)(1.0,1.05)(1.25,1.1)(1.5,1.17)(1.75,1.25)(2.0,1.35)(2.25,1.5)(2.5,1.68)(2.75,1.95)(3.0,2.35)(3.1,2.6)(3.2,2.9)(3.3,3.2)(3.4,3.5)(3.5,3.8)(3.6,4.25)(3.7,4.7)(3.8,5.3)(3.9,6.1)(4.0,7.1)(4.05,7.8)(4.1,8.5)(4.15,8.95)(4.2,9.05)(4.25,8.9)(4.3,8.5)(4.35,8.0)(4.4,7.4)(4.45,6.7)(4.5,6.0)(4.55,5.3)(4.6,4.7)(4.65,4.1)(4.7,3.6)(4.8,3.2)(4.9,2.9)(5.0,2.6)(5.1,2.4)(5.2,2.2)(5.3,1.8)(5.35,2.2)(5.4,1.6)(5.5,1.9)(5.6,1.6)(5.68,1.8)(5.72,1.2)(5.76,1.5)(5.8,0.8)(5.85,1.3)(5.9,1.0)(5.93,0.7)(5.95,10.5)};
\addplot[s5] coordinates {(0,1.0)(0.25,1.0)(0.5,1.0)(0.75,1.02)(1.0,1.05)(1.25,1.1)(1.5,1.17)(1.75,1.25)(2.0,1.35)(2.25,1.5)(2.5,1.68)(2.75,1.95)(3.0,2.35)(3.1,2.6)(3.2,2.9)(3.3,3.2)(3.4,3.5)(3.5,3.8)(3.6,4.2)(3.7,4.65)(3.8,5.25)(3.9,5.95)(4.0,6.9)(4.05,7.5)(4.1,8.2)(4.15,8.6)(4.2,8.95)(4.25,9.02)(4.3,8.85)(4.35,8.45)(4.4,7.9)(4.45,7.2)(4.5,6.5)(4.55,5.85)(4.6,5.2)(4.65,4.6)(4.7,4.15)(4.8,3.5)(4.9,3.1)(5.0,2.9)(5.1,2.7)(5.2,2.5)(5.3,1.6)(5.35,2.3)(5.4,1.3)(5.45,1.9)(5.5,1.5)(5.55,1.2)(5.6,1.6)(5.7,1.5)(5.8,1.6)(5.9,1.7)(6.0,1.8)};
\addplot[s6] coordinates {(0,1.1)(0.03,1.0)(0.25,1.0)(0.5,1.0)(0.75,1.02)(1.0,1.05)(1.25,1.1)(1.5,1.17)(1.75,1.25)(2.0,1.35)(2.25,1.5)(2.5,1.68)(2.75,1.95)(3.0,2.35)(3.1,2.6)(3.2,2.9)(3.3,3.2)(3.4,3.5)(3.5,3.8)(3.6,4.2)(3.7,4.65)(3.8,5.25)(3.9,5.95)(4.0,6.9)(4.05,7.5)(4.1,8.2)(4.15,8.6)(4.2,8.95)(4.25,9.0)(4.3,8.8)(4.35,8.4)(4.4,7.8)(4.45,7.1)(4.5,6.4)(4.55,5.75)(4.6,5.1)(4.65,4.5)(4.7,4.1)(4.8,3.5)(4.9,3.1)(5.0,2.9)(5.1,2.75)(5.2,2.65)(5.25,2.5)(5.3,2.4)(5.33,1.7)(5.37,2.4)(5.42,2.0)(5.47,2.5)(5.52,1.3)(5.57,1.9)(5.6,3.75)(5.63,1.5)(5.68,2.1)(5.73,1.7)(5.78,1.9)(5.83,1.5)(5.88,2.1)(5.93,1.8)(6.0,2.5)};
\addplot[s7] coordinates {(0,0.8)(0.04,1.0)(0.25,1.0)(0.35,1.05)(0.45,1.0)(0.5,1.05)(0.75,1.02)(0.8,0.75)(0.83,1.0)(1.0,1.05)(1.25,1.1)(1.5,1.17)(1.75,1.25)(2.0,1.35)(2.25,1.5)(2.5,1.68)(2.75,1.95)(3.0,2.35)(3.15,2.7)(3.25,2.9)(3.35,3.0)(3.45,3.3)(3.5,3.2)(3.55,3.0)(3.62,3.5)(3.67,3.6)(3.75,4.8)(3.82,5.3)(3.88,6.1)(3.95,7.3)(4.02,8.2)(4.08,8.9)(4.1,9.1)(4.15,8.6)(4.2,8.3)(4.28,8.1)(4.35,6.9)(4.4,5.9)(4.45,5.85)(4.5,5.9)(4.55,5.2)(4.6,4.6)(4.63,4.0)(4.67,4.3)(4.7,3.6)(4.75,3.6)(4.8,3.2)(4.85,3.5)(4.9,2.6)(4.95,3.0)(5.0,2.3)(5.05,1.7)(5.08,1.4)(5.12,2.1)(5.2,1.9)(5.3,1.8)(5.4,1.7)(5.5,1.6)(5.6,1.55)(5.65,1.8)(5.7,1.4)(5.75,1.8)(5.8,1.5)(5.85,1.9)(5.9,1.4)(5.95,2.2)(6.0,2.6)};
\plabel{0.084}{0.909}{(d)}
\end{axis}

% ---------------- legend of the spectra ----------------
\begin{axis}[hide axis, scale only axis, width=10pt, height=10pt,
  at={(7pt,-442.25pt)}, anchor=west, xmin=0, xmax=1, ymin=0, ymax=1,
  legend columns=7,
  legend style={at={(0,0.5)}, anchor=west, draw=black, line width=0.7pt,
    font=\fontsize{11}{13}\selectfont, inner xsep=0.5pt, inner ysep=3pt,
    cells={anchor=west}, nodes={inner sep=0pt, outer sep=0pt}, column sep=0pt},
  legend image code/.code={\draw[#1, line width=4pt] (0pt,0pt) -- (29pt,0pt);}]
\addlegendimage{c1}\addlegendentry{\hspace*{1.5pt}\makebox[52pt][l]{1693(1)}}
\addlegendimage{c2}\addlegendentry{\hspace*{1.5pt}\makebox[52pt][l]{1693(2)}}
\addlegendimage{c3}\addlegendentry{\hspace*{1.5pt}\makebox[52pt][l]{1693(3)}}
\addlegendimage{c4}\addlegendentry{\hspace*{1.5pt}\makebox[52pt][l]{1818(1)}}
\addlegendimage{c5}\addlegendentry{\hspace*{1.5pt}\makebox[52pt][l]{1818(2)}}
\addlegendimage{c6}\addlegendentry{\hspace*{1.5pt}\makebox[52pt][l]{1818(3)}}
\addlegendimage{c7}\addlegendentry{\hspace*{1.5pt}\makebox[34pt][l]{1990}}
\end{axis}

% ---------------- (e) frequency ratios ----------------
\begin{axis}[ratio, at={(40.85pt,-489.5pt)}, anchor=north west, width=256.65pt, height=160pt,
  xmin=0.04, ylabel style={at={(axis description cs:-0.116,0.5)}, anchor=center}]
\addplot[bI, bar width=0.17, bar shift=-0.222] coordinates {(1,0.623)(2,1.173)(3,1.192)(4,1.848)(5,1.331)(6,1.692)(7,1.408)};
\addplot[bII, bar width=0.17, bar shift=0] coordinates {(1,1.223)(2,0.664)(3,0.664)(4,1.317)(5,1.692)(6,1.239)(7,0.664)};
\addplot[bIII, bar width=0.17, bar shift=0.222] coordinates {(1,1.0)(2,1.408)(3,1.096)(4,0.664)(5,0.688)(6,0.688)(7,1.471)};
\addplot[unity] coordinates {(0.04,1)(8,1)};
\plabel{0.057}{0.903}{(e)}
\end{axis}

% ---------------- (f) frequency ratios ----------------
\begin{axis}[ratio, at={(335.85pt,-490pt)}, anchor=north west, width=257.5pt, height=160pt,
  xmin=0, ylabel style={at={(axis description cs:-0.097,0.5)}, anchor=center}]
\addplot[bI, bar width=0.175, bar shift=-0.228] coordinates {(1,1.0)(2,1.0)(3,0.979)(4,1.0)(5,1.0)(6,0.98)(7,0.979)};
\addplot[bII, bar width=0.175, bar shift=0] coordinates {(1,1.19)(2,1.19)(3,1.215)(4,1.098)(5,1.196)(6,1.168)(7,1.151)};
\addplot[bIII, bar width=0.175, bar shift=0.222] coordinates {(1,0.527)(2,0.623)(3,0.579)(4,0.548)(5,0.573)(6,0.535)(7,0.588)};
\addplot[unity] coordinates {(0,1)(8,1)};
\plabel{0.065}{0.9}{(f)}
\end{axis}

% ---------------- legend of the ratios ----------------
\begin{axis}[hide axis, scale only axis, width=10pt, height=10pt,
  at={(143.5pt,-677.5pt)}, anchor=north west, xmin=0, xmax=1, ymin=0, ymax=1,
  legend columns=4,
  legend style={at={(0,1)}, anchor=north west, draw=black, line width=0.7pt,
    font=\fontsize{11}{13}\selectfont, inner xsep=2.5pt, inner ysep=2.5pt,
    cells={anchor=west}, nodes={inner sep=0pt, outer sep=0pt}, column sep=0pt},
  legend image code/.code={\draw[#1, draw=black, line width=0.5pt] (0pt,-8.75pt) rectangle (15pt,8.75pt);}]
\addlegendimage{fill=barI}\addlegendentry{\hspace*{2pt}\makebox[69pt][l]{f\sub{SSI}(I)/f\sub{FF}}}
\addlegendimage{fill=barII}\addlegendentry{\hspace*{1pt}\makebox[73.5pt][l]{f\sub{SSI}(II)/f\sub{FF}}}
\addlegendimage{fill=barIII}\addlegendentry{\hspace*{1.5pt}\makebox[77.5pt][l]{f\sub{SSI}(III)/f\sub{FF}}}
\addlegendimage{legend image code/.code={\draw[blue, line width=0.6pt] (0pt,0pt) -- (17.5pt,0pt);}}
\addlegendentry{\hspace*{1pt}\makebox[41pt][l]{f\sub{SSI}=f\sub{FF}}}
\end{axis}
\end{tikzpicture}
\end{document}
